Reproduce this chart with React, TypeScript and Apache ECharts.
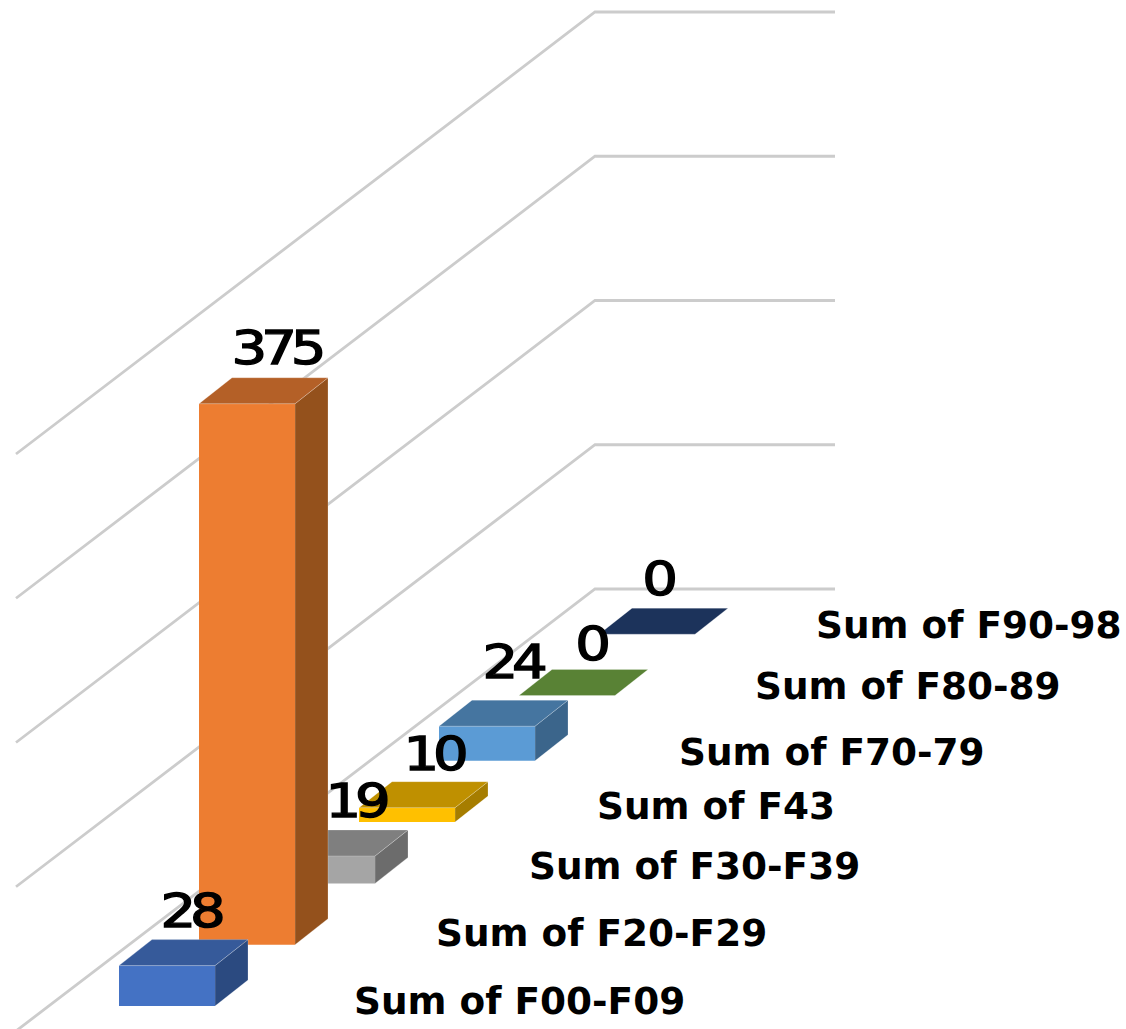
import React, { useEffect, useRef } from "react";
import * as echarts from "echarts";

// Diagnosis groups, nearest to the viewer first.
const categories = [
  "Sum of F00-F09",
  "Sum of F20-F29",
  "Sum of F30-F39",
  "Sum of F43",
  "Sum of F70-79",
  "Sum of F80-89",
  "Sum of F90-98",
];
const values = [28, 375, 19, 10, 24, 0, 0];
const gridTicks = [0, 100, 200, 300, 400];

// Face colours of each box: front, top, side.
const frontColors = ["#4472C4", "#ED7D31", "#A5A5A5", "#FFC000", "#5B9BD5", "#70AD47", "#264478"];
const topColors = ["#365A9A", "#B46027", "#7F7F7F", "#BF9000", "#4575A0", "#598235", "#1C335B"];
const sideColors = ["#2B4A80", "#94511C", "#6C6C6C", "#A67D00", "#3B658B", "#4B6D2D", "#172B4C"];

// Offsets of the value labels and category labels from each box's front-left top corner.
const valueNudgeX = [71, 77, 76, 74, 73, 71, 58];
const valueNudgeY = [-55, -56, -55, -54, -64, -52, -55];
const nameNudgeX = [235, 237, 250, 238, 240, 236, 217];
const nameNudgeY = [-5, -12, -17, -16, -9, -10, -9];

// Oblique projection of the depth axis.
const BOX_WIDTH = 96;
const DEPTH_DX = 33;
const DEPTH_DY = 26;
const ROW_RISE = 61.3;
const ZERO_LIFT = 4;
const WALL_FRONT_X = 16;
const WALL_BACK_X = 595;
const WALL_END_X = 835;
const WALL_RISE = 417;
const WALL_RUN_DROP = 442;

const faceEdge = "rgba(255,255,255,0.28)";

function rowPoint(api: any, row: number, value: number) {
  const [x, y] = api.coord([row, value]);
  return [x, y - row * ROW_RISE - (values[row] === 0 ? ZERO_LIFT : 0)];
}

function renderWall(_: any, api: any) {
  const [, y] = api.coord([0, api.value(0)]);
  const back = y - WALL_RISE;
  return {
    type: "polyline",
    shape: {
      points: [
        [WALL_FRONT_X, back + WALL_RUN_DROP],
        [WALL_BACK_X, back],
        [WALL_END_X, back],
      ],
    },
    style: { fill: "none", stroke: "#CCCCCC", lineWidth: 2.8 },
  };
}

function renderBox(_: any, api: any) {
  const row = api.value(0);
  const value = api.value(1);
  const [x, yTop] = rowPoint(api, row, value);
  const [, yBase] = rowPoint(api, row, 0);
  const xr = x + BOX_WIDTH;
  const poly = (points: number[][], fill: string, edged = true) => ({
    type: "polygon",
    shape: { points },
    style: { fill, stroke: edged ? faceEdge : fill, lineWidth: edged ? 0.8 : 0 },
  });
  return {
    type: "group",
    children: [
      poly(
        [
          [xr, yTop],
          [xr + DEPTH_DX, yTop - DEPTH_DY],
          [xr + DEPTH_DX, yBase - DEPTH_DY],
          [xr, yBase],
        ],
        sideColors[row]
      ),
      poly(
        [
          [x, yBase],
          [xr, yBase],
          [xr, yTop],
          [x, yTop],
        ],
        frontColors[row],
        false
      ),
      poly(
        [
          [x, yTop],
          [xr, yTop],
          [xr + DEPTH_DX, yTop - DEPTH_DY],
          [x + DEPTH_DX, yTop - DEPTH_DY],
        ],
        topColors[row]
      ),
    ],
  };
}

function renderLabels(_: any, api: any) {
  const row = api.value(0);
  const value = api.value(1);
  const [x, yTop] = rowPoint(api, row, value);
  return {
    type: "group",
    children: [
      {
        type: "text",
        x: x + valueNudgeX[row],
        y: yTop + valueNudgeY[row],
        scaleX: 1.22,
        style: {
          text: String(value),
          fontFamily: "DejaVu Sans",
          fontSize: 46,
          fontWeight: "normal",
          fill: "#000000",
          stroke: "#000000",
          lineWidth: 1.4,
          align: "center",
          verticalAlign: "middle",
        },
      },
      {
        type: "text",
        x: x + nameNudgeX[row],
        y: yTop + (value === 0 ? 0 : api.coord([0, 0])[1] - api.coord([0, value])[1]) + nameNudgeY[row],
        style: {
          text: categories[row],
          fontFamily: "DejaVu Sans",
          fontSize: 37.4,
          fontWeight: "bold",
          fill: "#000000",
          align: "left",
          verticalAlign: "middle",
        },
      },
    ],
  };
}

export default function App() {
  const ref = useRef<HTMLDivElement>(null);

  useEffect(() => {
    const chart = echarts.init(ref.current!, undefined, { renderer: "svg" });
    const rows = values.map((v, i) => [i, v]);
    chart.setOption({
      animation: false,
      backgroundColor: "#FFFFFF",
      grid: { left: 119, top: 429, width: 560, height: 577 },
      xAxis: { type: "value", min: 0, max: 7, show: false },
      yAxis: { type: "value", min: 0, max: 400, interval: 100, show: false },
      series: [
        {
          type: "custom",
          silent: true,
          clip: false,
          renderItem: renderWall,
          encode: { x: 1, y: 0 },
          data: gridTicks.map((t) => [t, 0]),
        },
        {
          type: "custom",
          silent: true,
          clip: false,
          renderItem: renderBox,
          encode: { x: 0, y: 1 },
          // Far rows are painted first so nearer boxes cover them.
          data: [...rows].reverse(),
        },
        {
          type: "custom",
          silent: true,
          clip: false,
          renderItem: renderLabels,
          encode: { x: 0, y: 1 },
          data: rows,
        },
      ],
    });
    return () => chart.dispose();
  }, []);

  return (
    <>
      {/* The value labels are wide and tightly set. */}
      <style>{`svg text[style*="46px"] { letter-spacing: -5px; }`}</style>
      <div ref={ref} style={{ position: "absolute", left: 0, top: 0, width: 1126, height: 1029 }} />
    </>
  );
}
